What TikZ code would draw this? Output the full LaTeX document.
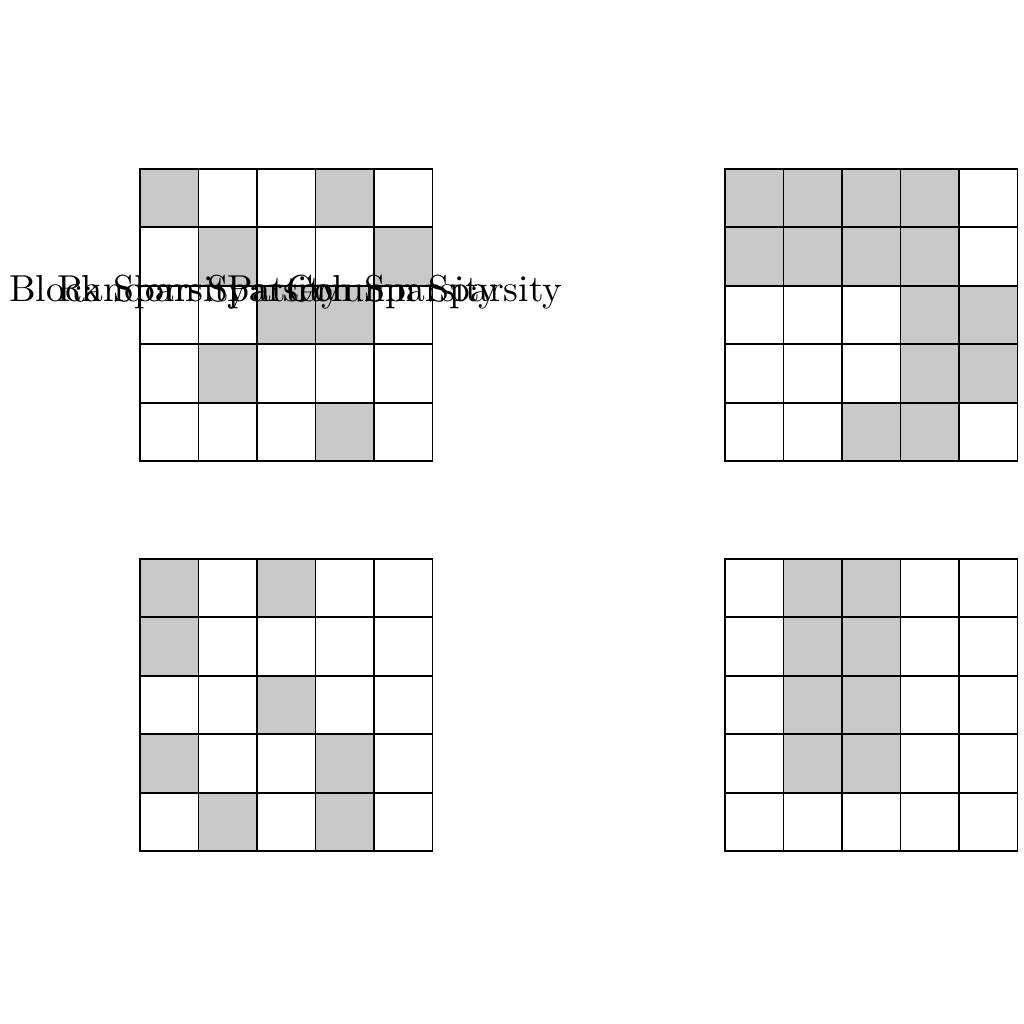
\documentclass[tikz,border=0pt]{standalone}
\definecolor{cellgray}{RGB}{200,200,200}
\begin{document}
\begin{tikzpicture}[cell/.style={draw,line width=0.5pt},
  filled/.style={fill=cellgray},
  title/.style={font=\fontsize{10.95}{13.6}\selectfont}]
\useasboundingbox (-1.436,-1.77) rectangle (9.067,8.73);

\foreach \c/\r in {1/1,4/1,2/2,5/2,3/3,4/3,2/4,4/5}
  \fill[filled] ({(\c-1)*0.6},{4+(5-\r)*0.6}) rectangle ++(0.6,0.6);
\foreach \c/\r in {1/1,2/1,3/1,4/1,1/2,2/2,3/2,4/2,4/3,5/3,4/4,5/4,3/5,4/5}
  \fill[filled] ({6+(\c-1)*0.6},{4+(5-\r)*0.6}) rectangle ++(0.6,0.6);
\foreach \c/\r in {1/1,3/1,1/2,3/3,1/4,4/4,2/5,4/5}
  \fill[filled] ({(\c-1)*0.6},{(5-\r)*0.6}) rectangle ++(0.6,0.6);
\foreach \c/\r in {2/1,3/1,2/2,3/2,2/3,3/3,2/4,3/4}
  \fill[filled] ({6+(\c-1)*0.6},{(5-\r)*0.6}) rectangle ++(0.6,0.6);

\foreach \gx/\gy in {0/4,6/4,0/0,6/0}
  \foreach \i in {0,...,4}
    \foreach \j in {0,...,4}
      \draw[cell] ({\gx+\i*0.6},{\gy+\j*0.6}) rectangle ++(0.6,0.6);

\node[title] (block) at (-0.12,5.73) {Block Sparsity};
\node[title] (random) at (0.61,5.73) {Random Sparsity};
\node[title] (pattern) at (2.29,5.73) {Pattern Sparsity};
\node[title] (column) at (2.92,5.73) {Column Sparsity};
\end{tikzpicture}
\end{document}
